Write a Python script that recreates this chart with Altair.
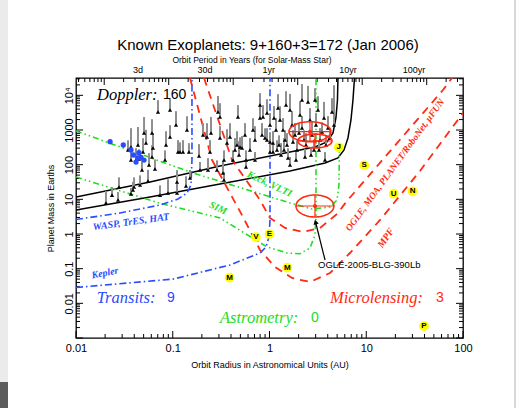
import numpy as np
import pandas as pd
import altair as alt

# ---------------- Doppler planets: orbit radius (AU), minimum mass (Earth masses), upper-bar factor
dop_a = [0.0204, 0.0278, 0.037, 0.0388, 0.0398, 0.0555, 0.0655, 0.037, 0.0417, 0.0448,
         0.037, 0.0437, 0.0529, 0.061, 0.0704, 0.0493, 0.0345, 0.0568, 0.0481, 0.0625,
         0.0852, 0.108, 0.1133, 0.1189, 0.1276, 0.147, 0.1107, 0.0893, 0.1107, 0.0937,
         0.0505, 0.061, 0.1403, 0.2054, 0.226, 0.2427, 0.2314, 0.2485, 0.2935, 0.3078,
         0.3078, 0.2866, 0.3306, 0.3637, 0.3906, 0.4398, 0.4721, 0.4613, 0.4955, 0.5196,
         0.4838, 0.4195, 0.5715, 0.675, 0.7977, 0.7977, 0.8567, 0.9425, 0.8366, 0.8985,
         0.9425, 1.012, 1.087, 1.012, 1.087, 1.195, 0.7081, 0.6285, 0.558, 0.3386,
         1.284, 1.379, 1.446, 1.517, 1.629, 1.709, 1.835, 1.924, 2.066, 2.167,
         2.273, 2.384, 2.5, 2.622, 2.75, 2.884, 3.024, 3.172, 3.327, 3.489,
         3.66, 3.837, 4.025, 4.221, 4.427, 1.879, 1.553, 1.315, 1.167, 1.253,
         1.4125, 1.75, 2.018, 2.328, 2.685, 3.248, 3.747, 4.643, 1.481, 2.167,
         2.953, 1.113, 1.224, 0.1507, 0.1912, 0.5715, 0.0738, 0.0272, 0.02355, 0.0459,
         0.137, 0.3386, 0.0937, 0.1868, 0.0832, 0.7081, 1.629, 1.012]
dop_m = [7.85, 22.7, 14.3, 18.6, 22.7, 33.8, 75, 136, 136, 146,
         323, 369, 422, 166, 3307, 232, 265, 98, 70, 303,
         369, 1394, 232, 232, 232, 232, 31.6, 15.2, 15.2, 628,
         820, 820, 1000, 718, 628, 232, 70, 820, 3307, 2372,
         588, 70, 57.5, 422, 628, 265, 2372, 369, 323, 303,
         190, 136, 136, 1000, 5263, 2220, 2372, 3094, 718, 588,
         515, 451, 422, 232, 232, 265, 515, 265, 718, 136,
         1944, 1000, 515, 369, 3777, 1394, 718, 265, 2710, 1142,
         515, 369, 6427, 1944, 718, 265, 1394, 3777, 515, 876,
         2220, 369, 1142, 588, 3307, 136, 156, 190, 1000, 369,
         265, 451, 820, 166, 190, 265, 136, 1394, 5263, 7337,
         7337, 2220, 4313, 41.3, 70.2, 85.7, 13.3, 9.57, 13.3, 25.9,
         24.3, 36.1, 3777, 178, 136, 136, 97.9, 1394]
dop_f = [2.2, 1.9, 1.5, 1.7, 1.9, 2.1, 1.9, 2.5, 2.2, 1.9,
         3.5, 3.3, 2.4, 2.2, 2.2, 2.5, 1.9, 2.2, 1.9, 2.7,
         2.5, 2.5, 2.2, 1.9, 2.2, 1.8, 2.2, 2.5, 2.2, 2.2,
         2.9, 2.5, 2.5, 2.2, 2.5, 2.2, 2.2, 2.9, 2.9, 2.5,
         2.2, 1.9, 2.2, 2.5, 2.5, 2.2, 2.2, 2.5, 1.9, 2.2,
         2.5, 1.9, 1.9, 2.2, 2.2, 2.5, 2.2, 2.5, 2.2, 1.9,
         2.2, 1.9, 2.2, 1.9, 2.2, 1.9, 2.5, 2.2, 2.2, 1.9,
         2.5, 2.2, 1.9, 2.2, 2.9, 2.5, 2.2, 1.9, 2.5, 2.2,
         1.9, 2.2, 2.9, 2.2, 2.5, 1.9, 2.2, 2.5, 2.2, 1.9,
         2.9, 1.9, 2.2, 1.9, 2.5, 1.7, 1.9, 2.2, 2.2, 1.9,
         2.2, 2.2, 1.9, 1.7, 1.7, 1.9, 1.7, 14, 2.5, 2.9,
         2.2, 2.2, 2.5, 1.7, 1.7, 1.9, 1.9, 1.7, 1.7, 1.9,
         1.9, 1.7, 2.2, 2.2, 1.9, 1.7, 1.7, 2.2]

# ---------------- Transiting planets
tr_a = [0.0225, 0.0308, 0.0391, 0.0448, 0.047, 0.0417, 0.0434, 0.037, 0.0505]
tr_m = [460, 369, 190, 221, 163, 119, 158, 265, 136]

# ---------------- Solar-system planets
ss_name = ["M", "V", "E", "M", "J", "S", "U", "N", "P"]
ss_a = [0.387, 0.723, 1.0, 1.524, 5.20, 9.54, 19.2, 30.1, 39.5]
ss_m = [0.0553, 0.815, 1.0, 0.107, 317.8, 95.2, 14.5, 17.1, 0.0022]

# ---------------- Microlensing planets (centre, half-widths of error ellipse in dex)
ml_name = ["OGLE-2003-BLG-235", "OGLE-2005-BLG-071", "OGLE-2005-BLG-390Lb"]
ml_a = [2.62, 2.95, 2.95]
ml_m = [893, 482, 6.43]
ml_da = [0.217, 0.176, 0.196]
ml_dm = [0.288, 0.20, 0.317]

# ---------------- Detection-limit curves
dop_hi_a = [0.01, 0.0582, 0.3078, 1.629, 2.953, 3.93, 4.53, 4.86, 5.04, 5.1]
dop_hi_m = [11.7, 31.6, 91.7, 232, 323, 451, 820, 2220, 7337, 31623]
dop_lo_a = [0.01, 0.0582, 0.3078, 1.629, 3.747, 5.1, 5.89, 6.47, 6.95, 7.29, 7.56]
dop_lo_m = [4.93, 11.7, 27.7, 65.7, 112, 156, 265, 588, 1944, 7337, 31623]
keck_a = [0.01, 0.162, 1.629, 2.75, 4.221, 4.99, 5.22, 5.28]
keck_m = [935, 57.5, 7.85, 5.27, 6.0, 9.57, 25.9, 265]
sim_a = [0.01, 0.0738, 0.3078, 0.935, 1.517, 2.066, 2.622, 2.953, 3.024, 3.024]
sim_m = [44, 7.7, 2.9, 0.43, 0.283, 0.27, 0.395, 0.94, 3.5, 31623]
wasp_a = [0.01, 0.0285, 0.0738, 0.1133, 0.1403, 0.1544, 0.158, 0.158]
wasp_m = [2.62, 4.04, 6.87, 10.2, 15.2, 25.9, 136, 31623]
kep_a = [0.01, 0.1006, 0.3906, 0.7977, 0.92, 0.988, 1.012, 1.012]
kep_m = [0.0286, 0.05, 0.128, 0.283, 0.42, 0.82, 2.54, 31623]
ground_a = [0.2104, 0.41, 0.7977, 1.012, 1.446, 2.22, 3.327, 4.99, 6.32, 62.1, 76.9]
ground_m = [31623, 136, 9.57, 2.9, 1.49, 1.14, 1.49, 3.78, 8.95, 14260, 31623]
mpf_a = [0.1507, 0.2545, 0.532, 0.7977, 1.14, 1.709, 2.622, 4.221, 6.79, 13.9, 35.9, 100]
mpf_m = [31623, 136, 3.1, 0.346, 0.112, 0.0538, 0.0413, 0.075, 0.283, 2.54, 65.7, 3090]
arrow_a = [3.75, 2.99]
arrow_m = [0.178, 2.22]

# ---------------- Axis ticks
x_major = [0.01, 0.1, 1, 10, 100]
x_minor = [k * 10.0 ** e for e in range(-2, 2) for k in range(2, 10)]
y_major = [10.0 ** e for e in range(-3, 5)]
y_minor = [k * 10.0 ** e for e in range(-3, 5) for k in range(2, 10) if k * 10.0 ** e < 31600]
days_major = [1, 10, 100, 1000, 10000, 100000]
days_minor = [k * 10.0 ** e for e in range(-1, 6) for k in range(2, 10)
              if 0.36525 < k * 10.0 ** e < 365250]
top_text = ["3d", "30d", "1yr", "10yr", "100yr"]
top_text_a = [0.0437, 0.2155, 0.98, 6.47, 31.2]

# ---------------- styling
SANS = "Liberation Sans"
SERIF = "Liberation Serif"
RED = "#ff2a12"
GREEN = "#22dd22"
BLUE = "#2a4cff"
W, H = 387, 260

XS = alt.Scale(type="log", domain=[0.01, 100], nice=False)
YS = alt.Scale(type="log", domain=[0.001, 31622.78], nice=False)
AXX = alt.Axis(values=x_major, format="~g", ticks=False, domain=False, grid=False,
               labelFlush=False, labelOverlap=False, labelFont=SANS, labelFontSize=11,
               labelColor="black", labelPadding=4,
               title="Orbit Radius in Astronomical Units (AU)", titleFont=SANS,
               titleFontSize=9, titleFontWeight="normal", titleColor="black", titlePadding=7)
AXY = alt.Axis(values=[0.01, 0.1, 1, 10, 100, 1000, 10000],
               labelExpr="datum.value >= 10000 ? '10\u2074' : format(datum.value, '~g')",
               ticks=False, domain=False, grid=False, labelFlush=False, labelOverlap=False,
               labelFont=SANS, labelFontSize=11, labelColor="black", labelAngle=270,
               labelAlign="center", labelBaseline="bottom", labelPadding=2,
               title="Planet Mass in Earths", titleFont=SANS, titleFontSize=9,
               titleFontWeight="normal", titleColor="black", titlePadding=8)
X = alt.X("a:Q", scale=XS, axis=AXX)
Y = alt.Y("m:Q", scale=YS, axis=AXY)


def curve(a, m, color, width=1.5, dash=None):
    df = pd.DataFrame({"a": a, "m": m, "i": range(len(a))})
    kw = dict(color=color, strokeWidth=width, clip=True)
    if dash:
        kw["strokeDash"] = dash
    return alt.Chart(df).mark_line(**kw).encode(x=X, y=Y, order="i:Q")


def label(text, a, m, color="black", font=SANS, size=10, style="normal",
          weight="normal", angle=0, align="center"):
    df = pd.DataFrame({"a": [a], "m": [m], "t": [text]})
    return alt.Chart(df).mark_text(color=color, font=font, fontSize=size, fontStyle=style,
                                   fontWeight=weight, angle=angle, align=align,
                                   baseline="middle").encode(x=X, y=Y, text="t:N")


def ptext(text, px, py, size, color="black", font=SANS):
    df = pd.DataFrame({"t": [text]})
    return alt.Chart(df).mark_text(fontSize=size, font=font, color=color, align="center",
                                   baseline="middle").encode(
        x=alt.value(px), y=alt.value(py), text="t:N")


one = pd.DataFrame({"k": [0]})
layers = []

# window artefacts of the screenshot
layers.append(alt.Chart(one).mark_rect(color="#ebebeb").encode(
    x=alt.value(-76), x2=alt.value(-68), y=alt.value(-78), y2=alt.value(304)))
layers.append(alt.Chart(one).mark_rect(color="#5c5c5c").encode(
    x=alt.value(-76), x2=alt.value(-68), y=alt.value(304), y2=alt.value(330)))
layers.append(alt.Chart(one).mark_rule(color="#b0b0b0", strokeWidth=1).encode(
    x=alt.value(439), y=alt.value(-78), y2=alt.value(330)))

# ticks (inward)
def xticks(vals, y0, y1):
    return alt.Chart(pd.DataFrame({"a": vals})).mark_rule(color="black", strokeWidth=1).encode(
        x=X, y=alt.value(y0), y2=alt.value(y1))


def yticks(vals, x0, x1):
    return alt.Chart(pd.DataFrame({"m": vals})).mark_rule(color="black", strokeWidth=1).encode(
        y=Y, x=alt.value(x0), x2=alt.value(x1))


top_major_a = [(d / 365.25) ** (2 / 3) for d in days_major]
top_minor_a = [(d / 365.25) ** (2 / 3) for d in days_minor]
layers += [xticks(x_major, H, H - 7), xticks(x_minor, H, H - 4),
           xticks(top_major_a, 0, 7), xticks(top_minor_a, 0, 4),
           yticks(y_major, 0, 7), yticks(y_minor, 0, 4),
           yticks(y_major, W, W - 7), yticks(y_minor, W, W - 4)]

# detection limit curves
layers += [
    curve(dop_hi_a, dop_hi_m, "black", 1.5),
    curve(dop_lo_a, dop_lo_m, "black", 1.5),
    curve(keck_a, keck_m, GREEN, 1.6, [6, 3, 1.5, 3, 1.5, 3]),
    curve(sim_a, sim_m, GREEN, 1.6, [6, 3, 1.5, 3, 1.5, 3]),
    curve(wasp_a, wasp_m, BLUE, 1.6, [7, 3, 1.5, 3]),
    curve(kep_a, kep_m, BLUE, 1.6, [7, 3, 1.5, 3]),
    curve(ground_a, ground_m, RED, 1.8, [8, 6]),
    curve(mpf_a, mpf_m, RED, 1.8, [8, 6]),
]

# Doppler planets
dop = pd.DataFrame({"a": dop_a, "m": dop_m, "f": dop_f})
dop["mtop"] = dop["m"] * dop["f"]
layers.append(alt.Chart(dop).mark_rule(color="#8f8f8f", strokeWidth=2).encode(
    x=X, y=Y, y2="mtop:Q"))
layers.append(alt.Chart(dop).mark_point(shape="triangle-up", filled=True, color="black",
                                        size=18, opacity=1).encode(x=X, y=Y))

# transiting planets
layers.append(alt.Chart(pd.DataFrame({"a": tr_a, "m": tr_m})).mark_circle(
    color=BLUE, size=28, opacity=1).encode(x=X, y=Y))

# microlensing planets: error ellipses, crosses, centres
rows = []
for n, a0, m0, da, dm in zip(ml_name, ml_a, ml_m, ml_da, ml_dm):
    for i, t in enumerate(np.linspace(0, 2 * np.pi, 61)):
        rows.append({"name": n, "i": i, "a": a0 * 10 ** (da * np.cos(t)),
                     "m": m0 * 10 ** (dm * np.sin(t))})
ell = pd.DataFrame(rows)
ml = pd.DataFrame({"name": ml_name, "a": ml_a, "m": ml_m})
ml["a_lo"] = [a * 10 ** -d for a, d in zip(ml_a, ml_da)]
ml["a_hi"] = [a * 10 ** d for a, d in zip(ml_a, ml_da)]
ml["m_lo"] = [m * 10 ** -d for m, d in zip(ml_m, ml_dm)]
ml["m_hi"] = [m * 10 ** d for m, d in zip(ml_m, ml_dm)]
layers.append(alt.Chart(ell).mark_line(color=RED, strokeWidth=1.6).encode(
    x=X, y=Y, detail="name:N", order="i:Q"))
layers.append(alt.Chart(ml).mark_rule(color=RED, strokeWidth=1.2).encode(
    x=alt.X("a_lo:Q", scale=XS, axis=AXX), x2="a_hi:Q", y=Y))
layers.append(alt.Chart(ml).mark_rule(color=RED, strokeWidth=1.2).encode(
    x=X, y=alt.Y("m_lo:Q", scale=YS, axis=AXY), y2="m_hi:Q"))
layers.append(alt.Chart(ml).mark_circle(color=RED, size=16, opacity=1).encode(x=X, y=Y))

# solar system
ss = pd.DataFrame({"a": ss_a, "m": ss_m, "name": ss_name})
layers.append(alt.Chart(ss).mark_circle(color="#ffff00", size=95, opacity=1).encode(x=X, y=Y))
layers.append(alt.Chart(ss).mark_text(font=SANS, fontSize=8, fontWeight="bold",
                                      color="black", baseline="middle").encode(
    x=X, y=Y, text="name:N"))

# arrow to OGLE-2005-BLG-390Lb
layers.append(curve(arrow_a, arrow_m, "black", 1.2))
layers.append(alt.Chart(pd.DataFrame({"a": [arrow_a[1]], "m": [arrow_m[1]]})).mark_point(
    shape="triangle-up", filled=True, color="black", size=30, angle=344, opacity=1).encode(
    x=X, y=Y))

# labels inside the plot
layers += [
    label("Doppler:", 0.0165, 10230, "black", SERIF, 16.5, "italic", align="left"),
    label("160", 0.0793, 10230, "black", SANS, 14, align="left"),
    label("Transits:", 0.0164, 0.0143, BLUE, SERIF, 16.5, "italic", align="left"),
    label("9", 0.0872, 0.0143, BLUE, SANS, 14, align="left"),
    label("Astrometry:", 0.3078, 0.00378, GREEN, SERIF, 16.5, "italic", align="left"),
    label("0", 2.685, 0.00378, GREEN, SANS, 14, align="left"),
    label("Microlensing:", 4.221, 0.0142, RED, SERIF, 16.5, "italic", align="left"),
    label("3", 52.6, 0.0142, RED, SANS, 14, align="left"),
    label("WASP, TrES, HAT", 0.037, 2.22, BLUE, SERIF, 10, "italic", "bold", angle=352),
    label("Kepler", 0.0199, 0.075, BLUE, SERIF, 10, "italic", "bold", angle=349),
    label("Keck, VLTI", 1.0, 27.7, GREEN, SERIF, 10, "italic", "bold", angle=25),
    label("SIM", 0.2935, 5.6, GREEN, SERIF, 10, "italic", "bold", angle=25),
    label("OGLE, MOA, PLANET/RoboNet, \u03bcFUN", 19.8, 97.9, RED, SERIF, 9.5,
          "italic", "bold", angle=306),
    label("MPF", 16.0, 0.767, RED, SERIF, 10, "italic", "bold", angle=305),
    label("OGLE-2005-BLG-390Lb", 3.172, 0.128, "black", SANS, 9.5, align="left"),
]

# top axis labels (orbital period)
layers.append(alt.Chart(pd.DataFrame({"a": top_text_a, "t": top_text})).mark_text(
    font=SANS, fontSize=9, color="black", baseline="middle").encode(
    x=X, y=alt.value(-8), text="t:N"))

# titles
layers.append(ptext("Known Exoplanets: 9+160+3=172 (Jan 2006)", 192, -33, 15))
layers.append(ptext("Orbit Period in Years (for Solar-Mass Star)", 176, -18, 8.5))

chart = alt.layer(*layers).properties(
    width=W, height=H,
    autosize=alt.AutoSizeParams(type="none"),
    padding={"left": 76, "top": 78, "right": 59, "bottom": 70},
    background="white",
).configure_view(stroke="black", strokeWidth=1.3)

chart.save("out.html", embed_options={"renderer": "svg", "actions": False})
